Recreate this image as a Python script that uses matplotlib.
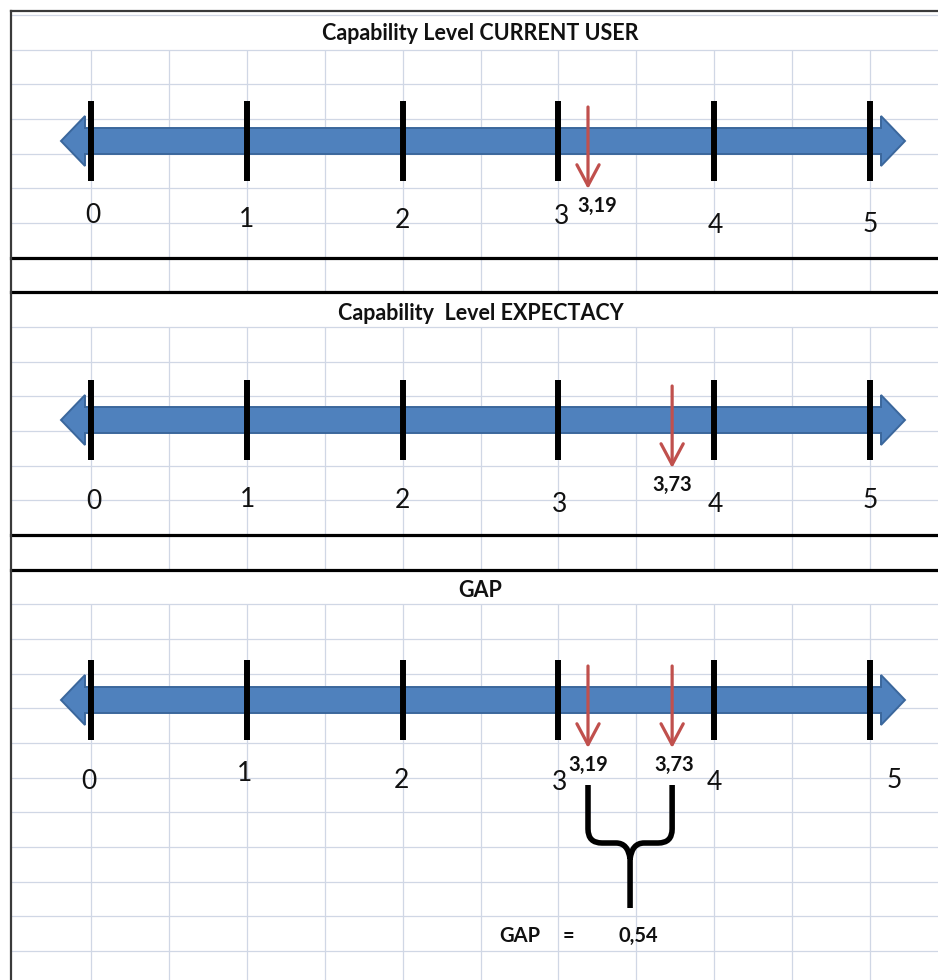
import matplotlib.pyplot as plt
import numpy as np
from matplotlib.patches import Polygon, PathPatch
from matplotlib.path import Path

plt.rcParams['font.family'] = ['Lato', 'DejaVu Sans']

# scale and measured levels
scale_ticks = [0, 1, 2, 3, 4, 5]
panel_titles = ['Capability Level CURRENT USER', 'Capability  Level EXPECTACY', 'GAP']
current_level = 3.19
expected_level = 3.73
panel_markers = [[current_level], [expected_level], [current_level, expected_level]]
gap = expected_level - current_level

# sheet layout (pixels)
W, H = 938, 980
X0, UNIT = 91, 155.8          # pixel of value 0, pixels per unit
ROW0, ROW_H, N_ROWS = 15, 34.67, 28
line_y = [141, 420, 700]
title_y = [34, 313, 590]
label_y = [[215, 219, 220, 216, 225, 224],
           [501, 499, 500, 504, 504, 500],
           [781, 773, 780, 782, 782, 780]]
label_dx = [[2, 0, 0, 3, 1, 0],
            [3, 1, 0, 1, 1, 0],
            [-2, -2, -1, 1, 0, 24]]
marker_label_dx = [[9], [0], [0, 2]]


def vx(p):
    # pixel column -> value units
    return (p - X0) / UNIT


def px(d):
    # pixel distance -> value units
    return d / UNIT


def fmt(v):
    return f'{v:.2f}'.replace('.', ',')


fig = plt.figure(figsize=(W / 100, H / 100), dpi=100)
ax = fig.add_axes([0, 0, 1, 1])
ax.set_xlim(vx(0), vx(W))
ax.set_ylim(H, 0)
ax.axis('off')

# spreadsheet grid
grid_c = '#D0D7E5'
rows = [ROW0 + k * ROW_H for k in range(N_ROWS)]
for k, y in enumerate(rows):
    if k in (7, 8, 15, 16):
        ax.plot([vx(11), vx(W)], [y, y], color='black', lw=2.3, zorder=2)
    else:
        ax.plot([vx(11), vx(W)], [y, y], color=grid_c, lw=0.9, zorder=1)

cols = np.arange(0, 5.01, 0.5)
spans = [(rows[1], rows[8]), (rows[9], rows[16]), (rows[17], H)]
for y0, y1 in spans:
    ax.vlines(cols, y0, y1, color=grid_c, lw=0.9, zorder=1)

# outer border
ax.plot([vx(11), vx(11)], [11, H], color='#3a3a3a', lw=1.6, zorder=3)
ax.plot([vx(11), vx(W)], [11, 11], color='#3a3a3a', lw=1.6, zorder=3)

blue = '#4F81BD'
red = '#C0504D'
ink = '#111111'

for i, yc in enumerate(line_y):
    # double-headed number line
    L = scale_ticks[0] - px(30)
    R = scale_ticks[-1] + px(35)
    h = px(24)
    pts = [(L, yc), (L + h, yc - 25), (L + h, yc - 13), (R - h, yc - 13),
           (R - h, yc - 25), (R, yc), (R - h, yc + 25), (R - h, yc + 13),
           (L + h, yc + 13), (L + h, yc + 25)]
    ax.add_patch(Polygon(pts, closed=True, facecolor=blue,
                         edgecolor='#3B679C', lw=1.4, zorder=4))

    # tick marks and numbers
    ax.vlines(scale_ticks, yc - 40, yc + 40, color='black', lw=4.3, zorder=5)
    for t, ly, dx in zip(scale_ticks, label_y[i], label_dx[i]):
        ax.text(t + px(dx), ly, str(t), ha='center', va='center',
                fontsize=19, color=ink, zorder=6)

    ax.text(2.5, title_y[i], panel_titles[i], ha='center', va='center',
            fontsize=15.5, fontweight='bold', color=ink, zorder=6)

    # level markers
    for v, dx in zip(panel_markers[i], marker_label_dx[i]):
        ax.annotate('', xy=(v, yc + 48), xytext=(v, yc - 34),
                    arrowprops=dict(arrowstyle='->,head_length=1.5,head_width=0.8',
                                    color=red, lw=2.3, shrinkA=0, shrinkB=0,
                                    mutation_scale=10),
                    zorder=7)
        ax.text(v + px(dx), yc + 65, fmt(v), ha='center', va='center',
                fontsize=14.5, fontweight='bold', color=ink, zorder=6)

# brace spanning the two levels
yc = line_y[2]
xl, xr = current_level, expected_level
xm = (xl + xr) / 2
top, mid, bot = yc + 85, yc + 143, yc + 208
r = px(14)
verts = [(xl, top), (xl, mid - 14), (xl, mid), (xl + r, mid), (xm - r, mid),
         (xm - px(2), mid), (xm, mid + 16), (xm, bot),
         (xr, top), (xr, mid - 14), (xr, mid), (xr - r, mid), (xm + r, mid),
         (xm + px(2), mid), (xm, mid + 16)]
codes = [Path.MOVETO, Path.LINETO, Path.CURVE3, Path.CURVE3, Path.LINETO,
         Path.CURVE3, Path.CURVE3, Path.LINETO,
         Path.MOVETO, Path.LINETO, Path.CURVE3, Path.CURVE3, Path.LINETO,
         Path.CURVE3, Path.CURVE3]
ax.add_patch(PathPatch(Path(verts, codes), facecolor='none', edgecolor='black',
                       lw=4, capstyle='butt', joinstyle='round', zorder=6))

ax.text(vx(520), 936, 'GAP', ha='center', va='center', fontsize=14.5,
        fontweight='bold', color=ink)
ax.text(vx(568), 936, '=', ha='center', va='center', fontsize=14.5,
        fontweight='bold', color=ink)
ax.text(xm + px(8), 936, fmt(gap), ha='center', va='center', fontsize=14.5,
        fontweight='bold', color=ink)

fig.savefig('out.png', dpi=100, facecolor='white')
